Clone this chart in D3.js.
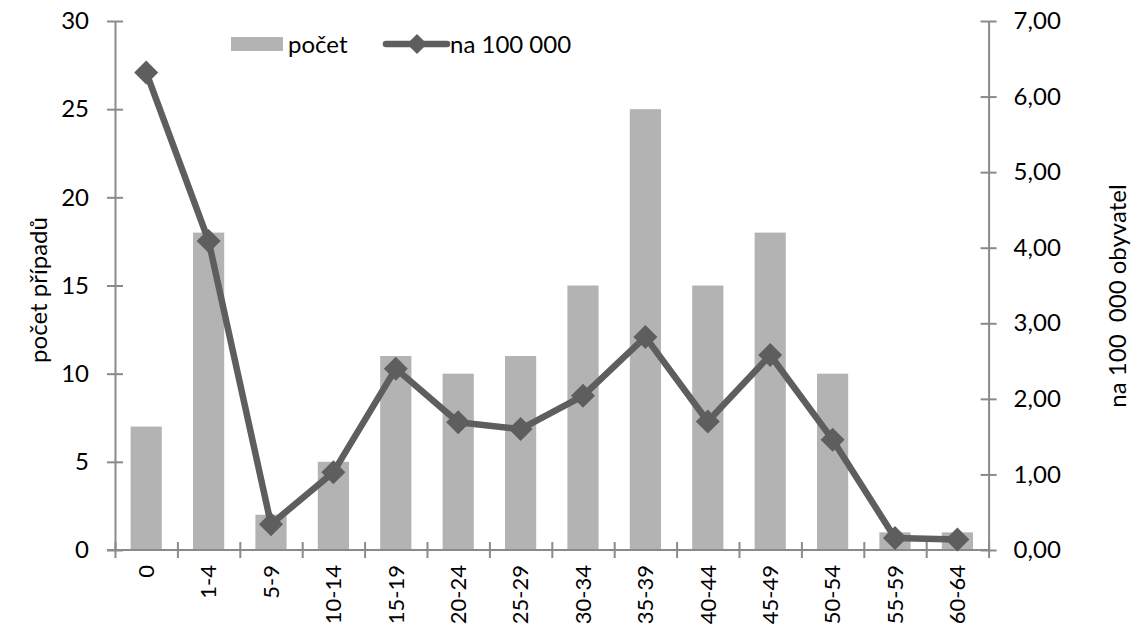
<!DOCTYPE html>
<html><head><meta charset="utf-8">
<script src="https://cdn.jsdelivr.net/npm/d3@7"></script>
<style>
body{margin:0;background:#fff;}
text{font-family:Lato,"Open Sans",sans-serif;fill:#000;}
</style></head>
<body><svg id="c" width="1132" height="629"></svg>
<script>
const categories = ["0","1-4","5-9","10-14","15-19","20-24","25-29","30-34","35-39","40-44","45-49","50-54","55-59","60-64"];
const pocet = [7,18,2,5,11,10,11,15,25,15,18,10,1,1];
const na100000 = [6.32,4.09,0.34,1.03,2.40,1.69,1.60,2.04,2.82,1.70,2.58,1.46,0.16,0.14];
const leftTicks = [0,5,10,15,20,25,30];
const rightTicks = [0,1,2,3,4,5,6,7];
const leftTitle = "počet případů";
const rightTitle = "na 100  000 obyvatel";
const legendLabels = ["počet","na 100 000"];

const svg = d3.select("#c");
const L = 115, R = 988.6, T = 21, B = 550;
const axisColor = "#8a8a8a", barColor = "#b3b3b3", lineColor = "#5e5e5e";
const fs = "24px";

const x = d3.scaleBand().domain(categories).range([L,R]).paddingInner(0.5).paddingOuter(0.25);
const xb = d3.scaleLinear().domain([0,categories.length]).range([L,R]);
const yL = d3.scaleLinear().domain([0,30]).range([B,T]);
const yR = d3.scaleLinear().domain([0,7]).range([B,T]);

// bars
svg.append("g").selectAll("rect").data(pocet).join("rect")
  .attr("x",(d,i)=>x(categories[i])).attr("width",x.bandwidth())
  .attr("y",d=>yL(d)).attr("height",d=>yL(0)-yL(d)).attr("fill",barColor);

// axes
function styleAxis(g){
  g.select(".domain").attr("stroke",axisColor).attr("stroke-width",2);
  g.selectAll(".tick line").attr("stroke",axisColor).attr("stroke-width",2);
}
const gl = svg.append("g").attr("transform",`translate(${L},0)`)
  .call(d3.axisLeft(yL).tickValues(leftTicks).tickSize(8).tickSizeOuter(0).tickPadding(18));
styleAxis(gl);
gl.selectAll(".tick line").attr("x2",8).attr("x1",-8);
gl.selectAll(".tick text").style("font-size",fs).attr("font-family","Lato").attr("fill","#000");

const gr = svg.append("g").attr("transform",`translate(${R},0)`)
  .call(d3.axisRight(yR).tickValues(rightTicks).tickSize(8).tickSizeOuter(0).tickPadding(17)
    .tickFormat(d=>d3.format(".2f")(d).replace(".",",")));
styleAxis(gr);
gr.selectAll(".tick line").attr("x1",-8).attr("x2",8);
gr.selectAll(".tick text").style("font-size",fs).attr("font-family","Lato").attr("fill","#000");

const gx = svg.append("g").attr("transform",`translate(0,${B})`)
  .call(d3.axisBottom(xb).tickValues(d3.range(categories.length+1)).tickSize(8).tickSizeOuter(0).tickFormat(""));
styleAxis(gx);
gx.selectAll(".tick line").attr("y1",-8).attr("y2",8);
gx.select(".domain").attr("d",`M${L-8},0H${R}`);

// category labels
svg.append("g").selectAll("text").data(categories).join("text")
  .attr("transform",d=>`translate(${x(d)+x.bandwidth()/2},565) rotate(-90)`)
  .attr("text-anchor","end").attr("dy","0.35em").style("font-size","22px").text(d=>d);

// line
const cx = i => x(categories[i]) + x.bandwidth()/2;
const line = d3.line().x((d,i)=>cx(i)).y(d=>yR(d));
svg.append("path").datum(na100000).attr("d",line).attr("fill","none")
  .attr("stroke",lineColor).attr("stroke-width",6.5).attr("stroke-linejoin","round");
const diamond = s => `M0,${-s}L${s},0L0,${s}L${-s},0Z`;
svg.append("g").selectAll("path").data(na100000).join("path")
  .attr("transform",(d,i)=>`translate(${cx(i)},${yR(d)})`)
  .attr("d",diamond(12)).attr("fill",lineColor);

// axis titles
svg.append("text").attr("transform","translate(47,290) rotate(-90)")
  .attr("text-anchor","middle").style("font-size",fs).text(leftTitle);
svg.append("text").attr("transform","translate(1126,296) rotate(-90)")
  .attr("text-anchor","middle").style("font-size",fs).style("white-space","pre").attr("xml:space","preserve").text(rightTitle);

// legend
const lg = svg.append("g");
lg.append("rect").attr("x",231).attr("y",37).attr("width",52).attr("height",14).attr("fill",barColor);
lg.append("text").attr("x",288).attr("y",53).style("font-size",fs).text(legendLabels[0]);
lg.append("line").attr("x1",386).attr("x2",447).attr("y1",44).attr("y2",44)
  .attr("stroke",lineColor).attr("stroke-width",6.5).attr("stroke-linecap","round");
lg.append("path").attr("transform","translate(417,44)").attr("d",diamond(10)).attr("fill",lineColor);
lg.append("text").attr("x",450).attr("y",53).style("font-size",fs).text(legendLabels[1]);
</script></body></html>
